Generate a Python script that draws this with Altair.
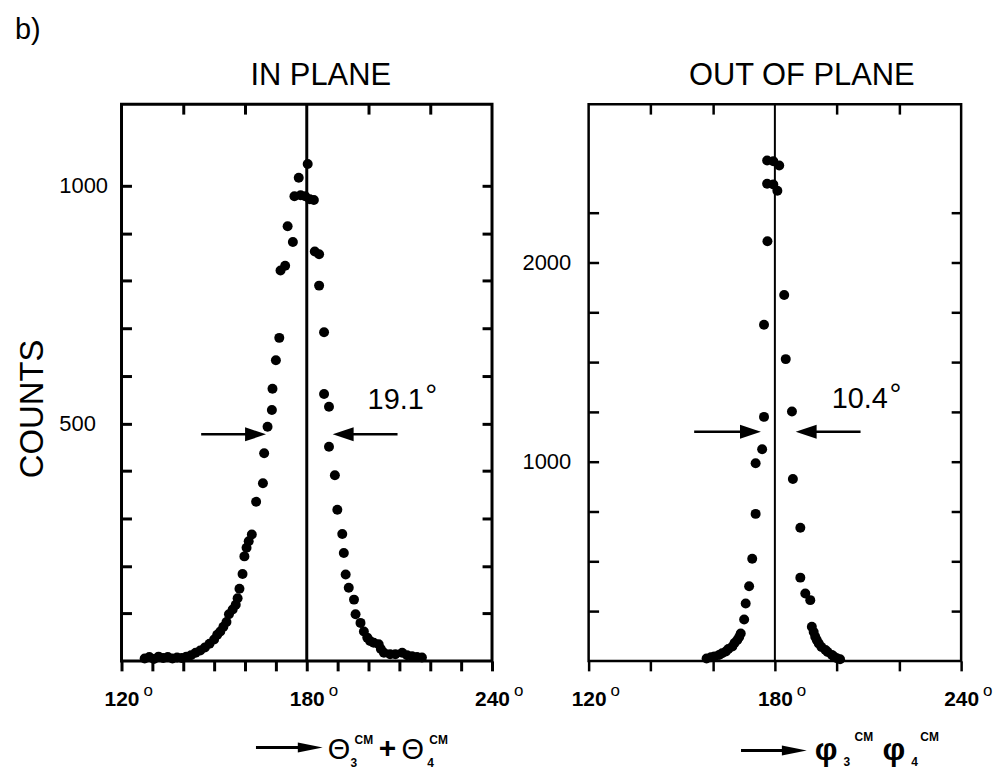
import altair as alt
import pandas as pd

FONT = "Liberation Sans"

# ---------------- data ----------------
in_angle = [127.5, 129.0, 130.5, 132.0, 133.5, 135.0, 136.5, 138.0, 139.5, 141.0,
            142.5, 144.0, 145.5, 147.0, 148.5, 150.0, 151.0, 152.0, 153.0, 154.0,
            154.8, 156.0, 157.0, 157.6, 158.2, 159.2, 159.8, 160.5, 161.2, 162.2,
            163.6, 165.8, 166.2, 167.3, 168.7, 168.9, 170.0, 171.1, 171.5, 173.0,
            173.8, 175.5, 176.0, 177.4, 178.0, 179.5, 180.3, 181.0, 182.3, 182.6,
            184.0, 184.0, 185.6, 185.6, 187.2, 187.2, 189.1, 189.9, 191.5, 192.0,
            192.6, 193.6, 195.3, 195.8, 197.4, 198.5, 199.6, 200.5, 201.7, 203.3,
            204.0, 205.0, 207.0, 208.7, 210.9, 212.5, 214.1, 215.7, 217.3]
in_counts = [5, 8, 4, 9, 6, 8, 5, 7, 6, 9,
             12, 17, 22, 28, 36, 45, 55, 62, 72, 82,
             98, 108, 118, 132, 152, 183, 220, 238, 252, 266,
             335, 374, 437, 493, 528, 573, 633, 680, 822, 832,
             915, 882, 978, 1017, 980, 978, 1046, 972, 970, 862,
             856, 790, 692, 562, 535, 451, 391, 318, 267, 227,
             182, 154, 129, 98, 80, 62, 49, 42, 38, 35,
             25, 17, 14, 14, 17, 12, 10, 8, 7]

out_angle = [158.0, 159.4, 160.5, 162.0, 163.0, 164.2, 165.0, 166.3, 167.0, 167.9,
             168.5, 169.0, 170.1, 170.6, 171.7, 172.7, 173.8, 173.8, 175.9, 176.5,
             176.5, 177.6, 177.5, 179.5, 177.5, 179.5, 181.4, 180.8, 183.0, 183.5,
             185.5, 185.8, 188.2, 188.2, 189.8, 191.4, 191.9, 192.5, 193.0, 193.5,
             194.1, 195.0, 196.3, 197.0, 198.4, 199.0, 200.0, 201.0]
out_counts = [12, 18, 22, 30, 38, 47, 60, 72, 90, 105,
              120, 138, 208, 288, 375, 513, 738, 992, 1063, 1225,
              1688, 2107, 2395, 2392, 2512, 2508, 2487, 2360, 1837, 1515,
              1252, 913, 668, 418, 338, 305, 171, 145, 121, 105,
              88, 70, 55, 45, 30, 22, 13, 8]

# FWHM arrows (tail angle, tip angle, counts level)
in_arrow_tail = [145.8, 209.4]
in_arrow_tip = [166.8, 188.4]
in_arrow_level = [477, 477]
out_arrow_tail = [154.0, 207.6]
out_arrow_tip = [175.5, 186.7]
out_arrow_level = [1150, 1150]
arrow_dir = ["right", "left"]

in_fwhm_label = "19.1"
in_fwhm_at = [199.7, 530]
out_fwhm_label = "10.4"
out_fwhm_at = [198.3, 1270]

x_labels = [120, 180, 240]
in_bottom_ticks = list(range(120, 241, 10))
out_bottom_ticks = list(range(120, 241, 20))
top_ticks = [140, 160, 200, 220]
in_y_ticks = list(range(100, 1001, 100))
in_y_labels = [500, 1000]
out_y_ticks = list(range(250, 2251, 250))
out_y_labels = [1000, 2000]

# ---------------- layout ----------------
W1, W2, H = 372, 374, 559
X_DOMAIN = [120, 240]
IN_YMAX = 1172
OUT_YMAX = 2795

HEAD_R = "M-2,-0.67L0,0L-2,0.67Z"
HEAD_L = "M2,-0.67L0,0L2,0.67Z"
SMALL_HEAD_R = "M-2,-0.4L0,0L-2,0.4Z"

dummy = pd.DataFrame({"d": [0]})


def txt(text, x, y, size, weight="normal", align="left", baseline="alphabetic", angle=0):
    return alt.Chart(dummy).mark_text(
        text=text, fontSize=size, fontWeight=weight, align=align, baseline=baseline,
        font=FONT, color="black", angle=angle
    ).encode(x=alt.value(x), y=alt.value(y))


def formula_arrow(x0, x1, y):
    shaft = alt.Chart(dummy).mark_rule(color="black", strokeWidth=3).encode(
        x=alt.value(x0), x2=alt.value(x1 - 10), y=alt.value(y))
    head = alt.Chart(dummy).mark_point(
        shape=SMALL_HEAD_R, size=625, filled=True, color="black", opacity=1, strokeWidth=0
    ).encode(x=alt.value(x1), y=alt.value(y))
    return [shaft, head]


def expr_in(vals):
    return "indexof([%s], datum.value) >= 0 ? datum.label : ''" % ",".join(str(v) for v in vals)


def panel(angle, counts, ymax, width, bottom_ticks, y_ticks, y_labels, frame_w, line_w, tick_w,
          ylab_align, ylab_pad, tails, tips, levels, fwhm_label, fwhm_at, deg_dx, extra):
    xs = alt.Scale(domain=X_DOMAIN, nice=False, zero=False)
    ys = alt.Scale(domain=[0, ymax], nice=False, zero=False)
    df = pd.DataFrame({"angle": angle, "counts": counts})

    pts = alt.Chart(df).mark_point(
        filled=True, shape="circle", size=100, color="black", opacity=1, strokeWidth=0
    ).encode(
        x=alt.X("angle:Q", scale=xs, axis=alt.Axis(
            orient="bottom", values=bottom_ticks, tickSize=10, tickWidth=tick_w, tickColor="black",
            domain=False, grid=False, title=None, labelExpr=expr_in(x_labels), format="d",
            labelFont=FONT, labelFontSize=21, labelFontWeight="bold", labelColor="black",
            labelPadding=18, labelFlush=False, labelOverlap=False, labelBound=False)),
        y=alt.Y("counts:Q", scale=ys, axis=alt.Axis(
            orient="left", values=y_ticks, offset=-10, tickSize=10, tickWidth=tick_w,
            tickColor="black", domain=False, grid=False, title=None, format="d",
            labelExpr=expr_in(y_labels), labelAlign=ylab_align, labelPadding=ylab_pad,
            labelBaseline="middle", labelFont=FONT, labelFontSize=22, labelColor="black",
            labelOverlap=False, labelBound=False, labelFlush=False)),
    )

    vline = alt.Chart(pd.DataFrame({"angle": [180], "lo": [0], "hi": [ymax]})).mark_rule(
        color="black", strokeWidth=line_w
    ).encode(
        x=alt.X("angle:Q", scale=xs, axis=alt.Axis(
            orient="top", values=top_ticks, offset=-10, tickSize=10, tickWidth=tick_w,
            tickColor="black", labels=False, domain=False, grid=False, title=None)),
        y=alt.Y("lo:Q", scale=ys, axis=alt.Axis(
            orient="right", values=y_ticks, offset=-10, tickSize=10, tickWidth=tick_w,
            tickColor="black", labels=False, domain=False, grid=False, title=None)),
        y2="hi:Q",
    )

    shaft_end = [t + (-2 if d == "right" else 2) for t, d in zip(tips, arrow_dir)]
    arr = pd.DataFrame({"tail": tails, "tip": tips, "end": shaft_end, "lvl": levels, "dir": arrow_dir})
    shaft = alt.Chart(arr).mark_rule(color="black", strokeWidth=2.5).encode(
        x=alt.X("tail:Q", scale=xs, axis=None), x2="end:Q",
        y=alt.Y("lvl:Q", scale=ys, axis=None))
    head = alt.Chart(arr).mark_point(filled=True, color="black", opacity=1, size=441, strokeWidth=0).encode(
        x=alt.X("tip:Q", scale=xs, axis=None), y=alt.Y("lvl:Q", scale=ys, axis=None),
        shape=alt.Shape("dir:N", scale=alt.Scale(domain=["right", "left"], range=[HEAD_R, HEAD_L]),
                        legend=None))

    lab_df = pd.DataFrame({"a": [fwhm_at[0]], "c": [fwhm_at[1]], "t": [fwhm_label]})
    fwhm = alt.Chart(lab_df).mark_text(
        align="left", baseline="alphabetic", font=FONT, fontSize=29, color="black"
    ).encode(x=alt.X("a:Q", scale=xs, axis=None), y=alt.Y("c:Q", scale=ys, axis=None), text="t:N")
    fwhm_deg = alt.Chart(lab_df).mark_text(
        text="°", align="left", baseline="alphabetic", font=FONT, fontSize=30, color="black",
        dx=deg_dx, dy=-4
    ).encode(x=alt.X("a:Q", scale=xs, axis=None), y=alt.Y("c:Q", scale=ys, axis=None))

    xo = alt.Chart(pd.DataFrame({"a": x_labels})).mark_text(
        text="o", align="left", baseline="alphabetic", font=FONT, fontSize=17, color="black", dx=22
    ).encode(x=alt.X("a:Q", scale=xs, axis=None), y=alt.value(H + 35))

    layers = [pts, vline, shaft, head, fwhm, fwhm_deg, xo] + extra
    return alt.layer(*layers).resolve_axis(x="independent", y="independent").properties(
        width=width, height=H, view=alt.ViewBackground(stroke="black", strokeWidth=frame_w, fill="white"))


bbox = alt.Chart(dummy).mark_rect(fill="white", opacity=0).encode(
    x=alt.value(-120), x2=alt.value(874), y=alt.value(-101), y2=alt.value(670))

left_extra = [
    bbox,
    txt("b)", -107, -65, 29),
    txt("IN PLANE", 200, -19, 31, align="center"),
    txt("COUNTS", -89, 306, 33, align="center", baseline="middle", angle=270),
    *formula_arrow(135, 202, 646),
    txt("Θ", 207, 657, 29),
    txt("3", 230, 666, 12, weight="bold"),
    txt("CM", 234, 642, 12, weight="bold"),
    txt("+", 267, 656, 30, weight="bold", align="center"),
    txt("Θ", 281, 657, 29),
    txt("4", 307, 666, 12, weight="bold"),
    txt("CM", 309, 642, 12, weight="bold"),
]

right_extra = [
    txt("OUT OF PLANE", 214, -19, 31, align="center"),
    *formula_arrow(153, 219, 649),
    txt("φ", 227, 659, 32, weight="bold"),
    txt("3", 256, 665, 12, weight="bold"),
    txt("CM", 267, 639, 12, weight="bold"),
    txt("φ", 295, 659, 32, weight="bold"),
    txt("4", 324, 665, 12, weight="bold"),
    txt("CM", 333, 639, 12, weight="bold"),
]

left = panel(in_angle, in_counts, IN_YMAX, W1, in_bottom_ticks, in_y_ticks, in_y_labels,
             3, 3, 3, "left", 63, in_arrow_tail, in_arrow_tip, in_arrow_level,
             in_fwhm_label, in_fwhm_at, 58, left_extra)
right = panel(out_angle, out_counts, OUT_YMAX, W2, out_bottom_ticks, out_y_ticks, out_y_labels,
              2.5, 2, 2.5, "right", 18, out_arrow_tail, out_arrow_tip, out_arrow_level,
              out_fwhm_label, out_fwhm_at, 58, right_extra)

chart = alt.hconcat(left, right, spacing=97, bounds="flush").properties(
    padding=0, background="white"
).configure(font=FONT)

chart.save("out.html", embed_options={"renderer": "svg", "actions": False})
